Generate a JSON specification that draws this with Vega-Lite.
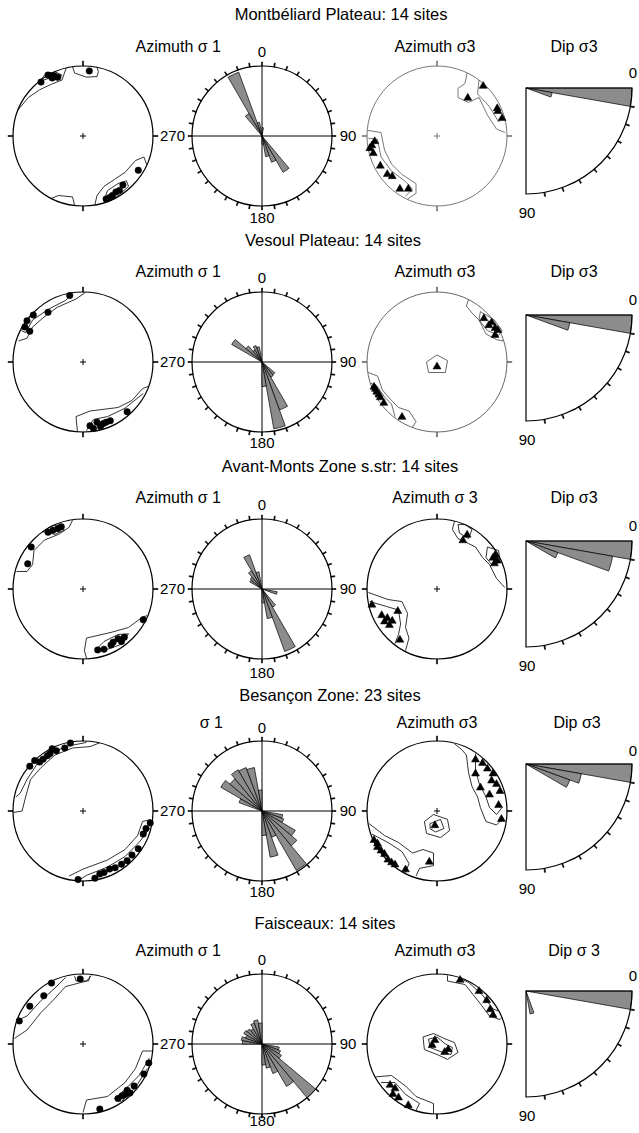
{
"$schema":"https://vega.github.io/schema/vega-lite/v6.json",
"padding":0,
"spacing":0,
"config":{"view":{"stroke":null},"axis":{"disable":true},"font":"Liberation Sans","text":{"font":"Liberation Sans","color":"black"}},
"datasets":{
"rosetick":[{"a":0},{"a":10},{"a":20},{"a":30},{"a":40},{"a":50},{"a":60},{"a":70},{"a":80},{"a":90},{"a":100},{"a":110},{"a":120},{"a":130},{"a":140},{"a":150},{"a":160},{"a":170},{"a":180},{"a":190},{"a":200},{"a":210},{"a":220},{"a":230},{"a":240},{"a":250},{"a":260},{"a":270},{"a":280},{"a":290},{"a":300},{"a":310},{"a":320},{"a":330},{"a":340},{"a":350}],
"nettick":[{"a":0},{"a":90},{"a":180},{"a":270}],
"diptick":[{"a":10},{"a":20},{"a":30},{"a":40},{"a":50},{"a":60},{"a":70},{"a":80}],
"rose":[
{"z":"M","a0":330,"a1":340,"r":0.97},{"z":"M","a0":320,"a1":330,"r":0.37},{"z":"M","a0":340,"a1":350,"r":0.2},{"z":"M","a0":0,"a1":10,"r":0.12},{"z":"M","a0":140,"a1":150,"r":0.6},{"z":"M","a0":150,"a1":160,"r":0.4},{"z":"M","a0":160,"a1":170,"r":0.3},{"z":"M","a0":170,"a1":180,"r":0.12},
{"z":"V","a0":300,"a1":310,"r":0.5},{"z":"V","a0":310,"a1":320,"r":0.3},{"z":"V","a0":320,"a1":330,"r":0.2},{"z":"V","a0":330,"a1":340,"r":0.25},{"z":"V","a0":340,"a1":350,"r":0.22},{"z":"V","a0":130,"a1":140,"r":0.24},{"z":"V","a0":140,"a1":150,"r":0.25},{"z":"V","a0":150,"a1":160,"r":0.73},{"z":"V","a0":160,"a1":170,"r":0.97},{"z":"V","a0":170,"a1":180,"r":0.35},
{"z":"A","a0":330,"a1":340,"r":0.52},{"z":"A","a0":300,"a1":310,"r":0.2},{"z":"A","a0":310,"a1":320,"r":0.22},{"z":"A","a0":320,"a1":330,"r":0.3},{"z":"A","a0":340,"a1":350,"r":0.25},{"z":"A","a0":100,"a1":110,"r":0.22},{"z":"A","a0":140,"a1":150,"r":0.3},{"z":"A","a0":150,"a1":160,"r":0.95},{"z":"A","a0":160,"a1":170,"r":0.43},{"z":"A","a0":170,"a1":180,"r":0.2},
{"z":"B","a0":290,"a1":300,"r":0.35},{"z":"B","a0":300,"a1":310,"r":0.68},{"z":"B","a0":310,"a1":320,"r":0.6},{"z":"B","a0":320,"a1":330,"r":0.68},{"z":"B","a0":330,"a1":340,"r":0.66},{"z":"B","a0":340,"a1":350,"r":0.63},{"z":"B","a0":350,"a1":360,"r":0.3},{"z":"B","a0":100,"a1":110,"r":0.3},{"z":"B","a0":110,"a1":120,"r":0.33},{"z":"B","a0":120,"a1":130,"r":0.55},{"z":"B","a0":130,"a1":140,"r":0.65},{"z":"B","a0":140,"a1":150,"r":0.98},{"z":"B","a0":150,"a1":160,"r":0.4},{"z":"B","a0":160,"a1":170,"r":0.67},{"z":"B","a0":170,"a1":180,"r":0.35},
{"z":"F","a0":270,"a1":280,"r":0.28},{"z":"F","a0":280,"a1":290,"r":0.3},{"z":"F","a0":290,"a1":300,"r":0.25},{"z":"F","a0":300,"a1":310,"r":0.3},{"z":"F","a0":310,"a1":320,"r":0.28},{"z":"F","a0":320,"a1":330,"r":0.25},{"z":"F","a0":330,"a1":340,"r":0.32},{"z":"F","a0":340,"a1":350,"r":0.35},{"z":"F","a0":350,"a1":360,"r":0.3},{"z":"F","a0":100,"a1":110,"r":0.25},{"z":"F","a0":110,"a1":120,"r":0.28},{"z":"F","a0":120,"a1":130,"r":0.32},{"z":"F","a0":130,"a1":140,"r":1.0},{"z":"F","a0":140,"a1":150,"r":0.7},{"z":"F","a0":150,"a1":160,"r":0.45},{"z":"F","a0":160,"a1":170,"r":0.35},{"z":"F","a0":170,"a1":180,"r":0.3}
],
"dip":[
{"z":"M","d0":0,"d1":10,"r":1.0},{"z":"M","d0":10,"d1":20,"r":0.25},
{"z":"V","d0":0,"d1":10,"r":1.0},{"z":"V","d0":10,"d1":20,"r":0.42},
{"z":"A","d0":0,"d1":10,"r":1.0},{"z":"A","d0":10,"d1":20,"r":0.83},{"z":"A","d0":20,"d1":30,"r":0.32},
{"z":"B","d0":0,"d1":10,"r":1.0},{"z":"B","d0":10,"d1":20,"r":0.53},{"z":"B","d0":20,"d1":30,"r":0.44},
{"z":"F","d0":0,"d1":10,"r":1.0},{"z":"F","d0":70,"d1":80,"r":0.22}
],
"poles":[
{"z":"M","p":1,"x":-0.6,"y":0.77},{"z":"M","p":1,"x":-0.5,"y":0.87},{"z":"M","p":1,"x":-0.46,"y":0.86},{"z":"M","p":1,"x":-0.41,"y":0.86},{"z":"M","p":1,"x":-0.36,"y":0.84},{"z":"M","p":1,"x":-0.44,"y":0.83},{"z":"M","p":1,"x":0.09,"y":0.93},{"z":"M","p":1,"x":0.79,"y":-0.49},{"z":"M","p":1,"x":0.57,"y":-0.7},{"z":"M","p":1,"x":0.52,"y":-0.78},{"z":"M","p":1,"x":0.47,"y":-0.8},{"z":"M","p":1,"x":0.42,"y":-0.85},{"z":"M","p":1,"x":0.38,"y":-0.88},{"z":"M","p":1,"x":0.33,"y":-0.9},
{"z":"V","p":1,"x":-0.19,"y":0.95},{"z":"V","p":1,"x":-0.5,"y":0.71},{"z":"V","p":1,"x":-0.71,"y":0.67},{"z":"V","p":1,"x":-0.8,"y":0.59},{"z":"V","p":1,"x":-0.83,"y":0.5},{"z":"V","p":1,"x":-0.76,"y":0.44},{"z":"V","p":1,"x":0.63,"y":-0.71},{"z":"V","p":1,"x":0.39,"y":-0.84},{"z":"V","p":1,"x":0.29,"y":-0.88},{"z":"V","p":1,"x":0.2,"y":-0.86},{"z":"V","p":1,"x":0.15,"y":-0.95},{"z":"V","p":1,"x":0.1,"y":-0.91},{"z":"V","p":1,"x":0.25,"y":-0.92},{"z":"V","p":1,"x":0.33,"y":-0.86},
{"z":"A","p":1,"x":-0.5,"y":0.81},{"z":"A","p":1,"x":-0.43,"y":0.84},{"z":"A","p":1,"x":-0.36,"y":0.86},{"z":"A","p":1,"x":-0.31,"y":0.89},{"z":"A","p":1,"x":-0.74,"y":0.6},{"z":"A","p":1,"x":-0.79,"y":0.36},{"z":"A","p":1,"x":0.86,"y":-0.44},{"z":"A","p":1,"x":0.59,"y":-0.69},{"z":"A","p":1,"x":0.5,"y":-0.71},{"z":"A","p":1,"x":0.43,"y":-0.76},{"z":"A","p":1,"x":0.3,"y":-0.86},{"z":"A","p":1,"x":0.21,"y":-0.87},{"z":"A","p":1,"x":0.4,"y":-0.8},{"z":"A","p":1,"x":0.55,"y":-0.75},
{"z":"B","p":1,"x":-0.18,"y":0.97},{"z":"B","p":1,"x":-0.26,"y":0.9},{"z":"B","p":1,"x":-0.44,"y":0.89},{"z":"B","p":1,"x":-0.51,"y":0.79},{"z":"B","p":1,"x":-0.57,"y":0.74},{"z":"B","p":1,"x":-0.69,"y":0.72},{"z":"B","p":1,"x":-0.76,"y":0.64},{"z":"B","p":1,"x":-0.62,"y":0.7},{"z":"B","p":1,"x":-0.47,"y":0.82},{"z":"B","p":1,"x":-0.38,"y":0.86},{"z":"B","p":1,"x":0.96,"y":-0.17},{"z":"B","p":1,"x":0.86,"y":-0.33},{"z":"B","p":1,"x":0.79,"y":-0.54},{"z":"B","p":1,"x":0.63,"y":-0.71},{"z":"B","p":1,"x":0.46,"y":-0.81},{"z":"B","p":1,"x":0.24,"y":-0.9},{"z":"B","p":1,"x":0.17,"y":-0.96},{"z":"B","p":1,"x":-0.07,"y":-0.98},{"z":"B","p":1,"x":0.55,"y":-0.76},{"z":"B","p":1,"x":0.38,"y":-0.83},{"z":"B","p":1,"x":0.9,"y":-0.25},{"z":"B","p":1,"x":0.7,"y":-0.63},{"z":"B","p":1,"x":0.3,"y":-0.88},
{"z":"F","p":1,"x":-0.45,"y":0.87},{"z":"F","p":1,"x":-0.56,"y":0.69},{"z":"F","p":1,"x":-0.76,"y":0.54},{"z":"F","p":1,"x":-0.91,"y":0.33},{"z":"F","p":1,"x":-0.04,"y":0.93},{"z":"F","p":1,"x":0.94,"y":-0.27},{"z":"F","p":1,"x":0.87,"y":-0.43},{"z":"F","p":1,"x":0.73,"y":-0.6},{"z":"F","p":1,"x":0.67,"y":-0.7},{"z":"F","p":1,"x":0.56,"y":-0.74},{"z":"F","p":1,"x":0.6,"y":-0.72},{"z":"F","p":1,"x":0.24,"y":-0.93},{"z":"F","p":1,"x":0.5,"y":-0.78},{"z":"F","p":1,"x":0.63,"y":-0.66},
{"z":"M","p":3,"x":0.66,"y":0.73},{"z":"M","p":3,"x":0.44,"y":0.56},{"z":"M","p":3,"x":0.86,"y":0.41},{"z":"M","p":3,"x":0.87,"y":0.37},{"z":"M","p":3,"x":0.93,"y":0.27},{"z":"M","p":3,"x":-0.89,"y":-0.06},{"z":"M","p":3,"x":-0.96,"y":-0.16},{"z":"M","p":3,"x":-0.91,"y":-0.23},{"z":"M","p":3,"x":-0.93,"y":-0.12},{"z":"M","p":3,"x":-0.81,"y":-0.41},{"z":"M","p":3,"x":-0.71,"y":-0.53},{"z":"M","p":3,"x":-0.64,"y":-0.56},{"z":"M","p":3,"x":-0.53,"y":-0.74},{"z":"M","p":3,"x":-0.41,"y":-0.74},
{"z":"V","p":3,"x":0.67,"y":0.64},{"z":"V","p":3,"x":0.74,"y":0.54},{"z":"V","p":3,"x":0.83,"y":0.5},{"z":"V","p":3,"x":0.87,"y":0.47},{"z":"V","p":3,"x":0.83,"y":0.4},{"z":"V","p":3,"x":0.78,"y":0.58},{"z":"V","p":3,"x":0.0,"y":-0.05},{"z":"V","p":3,"x":-0.9,"y":-0.34},{"z":"V","p":3,"x":-0.86,"y":-0.41},{"z":"V","p":3,"x":-0.81,"y":-0.49},{"z":"V","p":3,"x":-0.76,"y":-0.57},{"z":"V","p":3,"x":-0.5,"y":-0.77},{"z":"V","p":3,"x":-0.88,"y":-0.37},{"z":"V","p":3,"x":-0.83,"y":-0.45},
{"z":"A","p":3,"x":0.43,"y":0.79},{"z":"A","p":3,"x":0.37,"y":0.71},{"z":"A","p":3,"x":0.83,"y":0.5},{"z":"A","p":3,"x":0.8,"y":0.46},{"z":"A","p":3,"x":0.86,"y":0.42},{"z":"A","p":3,"x":0.82,"y":0.38},{"z":"A","p":3,"x":-0.93,"y":-0.21},{"z":"A","p":3,"x":-0.79,"y":-0.36},{"z":"A","p":3,"x":-0.71,"y":-0.4},{"z":"A","p":3,"x":-0.64,"y":-0.44},{"z":"A","p":3,"x":-0.56,"y":-0.3},{"z":"A","p":3,"x":-0.53,"y":-0.71},{"z":"A","p":3,"x":-0.75,"y":-0.45},{"z":"A","p":3,"x":-0.68,"y":-0.5},
{"z":"B","p":3,"x":0.55,"y":0.75},{"z":"B","p":3,"x":0.65,"y":0.7},{"z":"B","p":3,"x":0.72,"y":0.62},{"z":"B","p":3,"x":0.8,"y":0.55},{"z":"B","p":3,"x":0.78,"y":0.45},{"z":"B","p":3,"x":0.85,"y":0.4},{"z":"B","p":3,"x":0.9,"y":0.3},{"z":"B","p":3,"x":0.75,"y":0.25},{"z":"B","p":3,"x":0.88,"y":0.1},{"z":"B","p":3,"x":0.92,"y":-0.1},{"z":"B","p":3,"x":0.55,"y":0.55},{"z":"B","p":3,"x":0.62,"y":0.35},{"z":"B","p":3,"x":-0.03,"y":-0.19},{"z":"B","p":3,"x":-0.9,"y":-0.4},{"z":"B","p":3,"x":-0.85,"y":-0.5},{"z":"B","p":3,"x":-0.8,"y":-0.55},{"z":"B","p":3,"x":-0.7,"y":-0.68},{"z":"B","p":3,"x":-0.6,"y":-0.75},{"z":"B","p":3,"x":-0.45,"y":-0.82},{"z":"B","p":3,"x":-0.11,"y":-0.71},{"z":"B","p":3,"x":-0.85,"y":-0.45},{"z":"B","p":3,"x":-0.65,"y":-0.72},{"z":"B","p":3,"x":-0.75,"y":-0.6},
{"z":"F","p":3,"x":0.33,"y":0.93},{"z":"F","p":3,"x":0.6,"y":0.77},{"z":"F","p":3,"x":0.71,"y":0.64},{"z":"F","p":3,"x":0.76,"y":0.51},{"z":"F","p":3,"x":0.8,"y":0.43},{"z":"F","p":3,"x":-0.03,"y":0.07},{"z":"F","p":3,"x":-0.07,"y":0.0},{"z":"F","p":3,"x":0.16,"y":-0.06},{"z":"F","p":3,"x":0.11,"y":-0.1},{"z":"F","p":3,"x":-0.67,"y":-0.57},{"z":"F","p":3,"x":-0.63,"y":-0.7},{"z":"F","p":3,"x":-0.41,"y":-0.86},{"z":"F","p":3,"x":-0.6,"y":-0.62},{"z":"F","p":3,"x":-0.55,"y":-0.75}
],
"contours":[
{"z":"M","p":1,"g":"a","x":-0.93,"y":0.37},{"z":"M","p":1,"g":"a","x":-0.78,"y":0.55},{"z":"M","p":1,"g":"a","x":-0.62,"y":0.66},{"z":"M","p":1,"g":"a","x":-0.45,"y":0.74},{"z":"M","p":1,"g":"a","x":-0.3,"y":0.8},{"z":"M","p":1,"g":"a","x":-0.24,"y":0.97},
{"z":"M","p":1,"g":"b","x":-0.62,"y":0.78},{"z":"M","p":1,"g":"b","x":-0.5,"y":0.82},{"z":"M","p":1,"g":"b","x":-0.36,"y":0.8},{"z":"M","p":1,"g":"b","x":-0.3,"y":0.87},{"z":"M","p":1,"g":"b","x":-0.4,"y":0.92},{"z":"M","p":1,"g":"b","x":-0.55,"y":0.87},{"z":"M","p":1,"g":"b","x":-0.62,"y":0.78},
{"z":"M","p":1,"g":"c","x":-0.15,"y":0.99},{"z":"M","p":1,"g":"c","x":-0.12,"y":0.9},{"z":"M","p":1,"g":"c","x":0.05,"y":0.84},{"z":"M","p":1,"g":"c","x":0.2,"y":0.85},{"z":"M","p":1,"g":"c","x":0.22,"y":0.92},{"z":"M","p":1,"g":"c","x":0.2,"y":0.98},
{"z":"M","p":1,"g":"d","x":0.17,"y":-0.98},{"z":"M","p":1,"g":"d","x":0.2,"y":-0.85},{"z":"M","p":1,"g":"d","x":0.3,"y":-0.72},{"z":"M","p":1,"g":"d","x":0.45,"y":-0.62},{"z":"M","p":1,"g":"d","x":0.6,"y":-0.52},{"z":"M","p":1,"g":"d","x":0.75,"y":-0.35},{"z":"M","p":1,"g":"d","x":0.87,"y":-0.3},{"z":"M","p":1,"g":"d","x":0.91,"y":-0.41},
{"z":"M","p":1,"g":"e","x":0.3,"y":-0.92},{"z":"M","p":1,"g":"e","x":0.35,"y":-0.78},{"z":"M","p":1,"g":"e","x":0.5,"y":-0.68},{"z":"M","p":1,"g":"e","x":0.62,"y":-0.64},{"z":"M","p":1,"g":"e","x":0.65,"y":-0.72},{"z":"M","p":1,"g":"e","x":0.52,"y":-0.84},{"z":"M","p":1,"g":"e","x":0.4,"y":-0.92},
{"z":"M","p":1,"g":"f","x":-0.45,"y":-0.89},{"z":"M","p":1,"g":"f","x":-0.35,"y":-0.85},{"z":"M","p":1,"g":"f","x":-0.15,"y":-0.87},{"z":"M","p":1,"g":"f","x":-0.12,"y":-0.99},
{"z":"V","p":1,"g":"a","x":0.03,"y":0.99},{"z":"V","p":1,"g":"a","x":-0.1,"y":0.9},{"z":"V","p":1,"g":"a","x":-0.37,"y":0.78},{"z":"V","p":1,"g":"a","x":-0.56,"y":0.64},{"z":"V","p":1,"g":"a","x":-0.72,"y":0.5},{"z":"V","p":1,"g":"a","x":-0.8,"y":0.34},{"z":"V","p":1,"g":"a","x":-0.92,"y":0.3},
{"z":"V","p":1,"g":"b","x":-0.15,"y":0.97},{"z":"V","p":1,"g":"b","x":-0.25,"y":0.88},{"z":"V","p":1,"g":"b","x":-0.5,"y":0.75},{"z":"V","p":1,"g":"b","x":-0.72,"y":0.6},{"z":"V","p":1,"g":"b","x":-0.82,"y":0.42},{"z":"V","p":1,"g":"b","x":-0.88,"y":0.45},
{"z":"V","p":1,"g":"c","x":0.93,"y":-0.35},{"z":"V","p":1,"g":"c","x":0.85,"y":-0.38},{"z":"V","p":1,"g":"c","x":0.7,"y":-0.55},{"z":"V","p":1,"g":"c","x":0.5,"y":-0.65},{"z":"V","p":1,"g":"c","x":0.1,"y":-0.7},{"z":"V","p":1,"g":"c","x":-0.1,"y":-0.78},{"z":"V","p":1,"g":"c","x":-0.08,"y":-0.99},
{"z":"V","p":1,"g":"d","x":0.86,"y":-0.45},{"z":"V","p":1,"g":"d","x":0.6,"y":-0.66},{"z":"V","p":1,"g":"d","x":0.35,"y":-0.78},{"z":"V","p":1,"g":"d","x":0.15,"y":-0.82},{"z":"V","p":1,"g":"d","x":0.05,"y":-0.98},
{"z":"A","p":1,"g":"a","x":-0.15,"y":0.98},{"z":"A","p":1,"g":"a","x":-0.2,"y":0.88},{"z":"A","p":1,"g":"a","x":-0.35,"y":0.78},{"z":"A","p":1,"g":"a","x":-0.55,"y":0.7},{"z":"A","p":1,"g":"a","x":-0.7,"y":0.55},{"z":"A","p":1,"g":"a","x":-0.72,"y":0.35},{"z":"A","p":1,"g":"a","x":-0.8,"y":0.25},{"z":"A","p":1,"g":"a","x":-0.95,"y":0.25},
{"z":"A","p":1,"g":"b","x":-0.58,"y":0.82},{"z":"A","p":1,"g":"b","x":-0.4,"y":0.78},{"z":"A","p":1,"g":"b","x":-0.27,"y":0.84},{"z":"A","p":1,"g":"b","x":-0.3,"y":0.92},{"z":"A","p":1,"g":"b","x":-0.45,"y":0.9},{"z":"A","p":1,"g":"b","x":-0.58,"y":0.82},
{"z":"A","p":1,"g":"c","x":0.92,"y":-0.38},{"z":"A","p":1,"g":"c","x":0.85,"y":-0.4},{"z":"A","p":1,"g":"c","x":0.65,"y":-0.55},{"z":"A","p":1,"g":"c","x":0.4,"y":-0.62},{"z":"A","p":1,"g":"c","x":0.05,"y":-0.7},{"z":"A","p":1,"g":"c","x":0.02,"y":-0.88},{"z":"A","p":1,"g":"c","x":0.05,"y":-0.99},
{"z":"A","p":1,"g":"d","x":0.65,"y":-0.64},{"z":"A","p":1,"g":"d","x":0.5,"y":-0.65},{"z":"A","p":1,"g":"d","x":0.3,"y":-0.75},{"z":"A","p":1,"g":"d","x":0.2,"y":-0.85},{"z":"A","p":1,"g":"d","x":0.35,"y":-0.86},{"z":"A","p":1,"g":"d","x":0.55,"y":-0.79},{"z":"A","p":1,"g":"d","x":0.65,"y":-0.64},
{"z":"B","p":1,"g":"a","x":0.23,"y":0.97},{"z":"B","p":1,"g":"a","x":0.1,"y":0.92},{"z":"B","p":1,"g":"a","x":-0.15,"y":0.9},{"z":"B","p":1,"g":"a","x":-0.4,"y":0.8},{"z":"B","p":1,"g":"a","x":-0.6,"y":0.62},{"z":"B","p":1,"g":"a","x":-0.75,"y":0.45},{"z":"B","p":1,"g":"a","x":-0.82,"y":0.2},{"z":"B","p":1,"g":"a","x":-0.87,"y":0.0},{"z":"B","p":1,"g":"a","x":-0.99,"y":-0.02},
{"z":"B","p":1,"g":"b","x":0.05,"y":0.98},{"z":"B","p":1,"g":"b","x":-0.2,"y":0.93},{"z":"B","p":1,"g":"b","x":-0.45,"y":0.84},{"z":"B","p":1,"g":"b","x":-0.65,"y":0.68},{"z":"B","p":1,"g":"b","x":-0.8,"y":0.45},{"z":"B","p":1,"g":"b","x":-0.9,"y":0.25},{"z":"B","p":1,"g":"b","x":-0.96,"y":0.2},
{"z":"B","p":1,"g":"c","x":0.97,"y":-0.12},{"z":"B","p":1,"g":"c","x":0.85,"y":-0.15},{"z":"B","p":1,"g":"c","x":0.78,"y":-0.35},{"z":"B","p":1,"g":"c","x":0.6,"y":-0.55},{"z":"B","p":1,"g":"c","x":0.35,"y":-0.7},{"z":"B","p":1,"g":"c","x":0.0,"y":-0.83},{"z":"B","p":1,"g":"c","x":-0.2,"y":-0.93},
{"z":"B","p":1,"g":"d","x":0.95,"y":-0.25},{"z":"B","p":1,"g":"d","x":0.8,"y":-0.45},{"z":"B","p":1,"g":"d","x":0.6,"y":-0.65},{"z":"B","p":1,"g":"d","x":0.35,"y":-0.8},{"z":"B","p":1,"g":"d","x":0.05,"y":-0.92},{"z":"B","p":1,"g":"d","x":-0.05,"y":-0.98},
{"z":"F","p":1,"g":"a","x":0.12,"y":0.98},{"z":"F","p":1,"g":"a","x":0.05,"y":0.9},{"z":"F","p":1,"g":"a","x":-0.25,"y":0.82},{"z":"F","p":1,"g":"a","x":-0.45,"y":0.6},{"z":"F","p":1,"g":"a","x":-0.6,"y":0.45},{"z":"F","p":1,"g":"a","x":-0.8,"y":0.2},{"z":"F","p":1,"g":"a","x":-0.98,"y":0.08},
{"z":"F","p":1,"g":"b","x":-0.25,"y":0.95},{"z":"F","p":1,"g":"b","x":-0.4,"y":0.8},{"z":"F","p":1,"g":"b","x":-0.6,"y":0.62},{"z":"F","p":1,"g":"b","x":-0.8,"y":0.4},{"z":"F","p":1,"g":"b","x":-0.91,"y":0.35},
{"z":"F","p":1,"g":"c","x":-0.12,"y":0.97},{"z":"F","p":1,"g":"c","x":-0.1,"y":0.9},{"z":"F","p":1,"g":"c","x":0.08,"y":0.9},{"z":"F","p":1,"g":"c","x":0.1,"y":0.97},
{"z":"F","p":1,"g":"d","x":0.99,"y":-0.1},{"z":"F","p":1,"g":"d","x":0.85,"y":-0.1},{"z":"F","p":1,"g":"d","x":0.75,"y":-0.35},{"z":"F","p":1,"g":"d","x":0.6,"y":-0.55},{"z":"F","p":1,"g":"d","x":0.35,"y":-0.75},{"z":"F","p":1,"g":"d","x":0.05,"y":-0.8},{"z":"F","p":1,"g":"d","x":0.0,"y":-0.98},
{"z":"F","p":1,"g":"e","x":0.95,"y":-0.2},{"z":"F","p":1,"g":"e","x":0.8,"y":-0.45},{"z":"F","p":1,"g":"e","x":0.6,"y":-0.65},{"z":"F","p":1,"g":"e","x":0.45,"y":-0.78},{"z":"F","p":1,"g":"e","x":0.55,"y":-0.82},{"z":"F","p":1,"g":"e","x":0.75,"y":-0.62},{"z":"F","p":1,"g":"e","x":0.92,"y":-0.35},
{"z":"M","p":3,"g":"a","x":0.43,"y":0.9},{"z":"M","p":3,"g":"a","x":0.4,"y":0.75},{"z":"M","p":3,"g":"a","x":0.3,"y":0.68},{"z":"M","p":3,"g":"a","x":0.3,"y":0.55},{"z":"M","p":3,"g":"a","x":0.45,"y":0.48},{"z":"M","p":3,"g":"a","x":0.6,"y":0.55},{"z":"M","p":3,"g":"a","x":0.72,"y":0.3},{"z":"M","p":3,"g":"a","x":0.85,"y":0.1},{"z":"M","p":3,"g":"a","x":0.97,"y":0.05},
{"z":"M","p":3,"g":"b","x":0.6,"y":0.8},{"z":"M","p":3,"g":"b","x":0.58,"y":0.6},{"z":"M","p":3,"g":"b","x":0.75,"y":0.42},{"z":"M","p":3,"g":"b","x":0.88,"y":0.2},{"z":"M","p":3,"g":"b","x":0.94,"y":0.28},
{"z":"M","p":3,"g":"c","x":-0.99,"y":0.08},{"z":"M","p":3,"g":"c","x":-0.8,"y":0.05},{"z":"M","p":3,"g":"c","x":-0.75,"y":-0.2},{"z":"M","p":3,"g":"c","x":-0.65,"y":-0.4},{"z":"M","p":3,"g":"c","x":-0.5,"y":-0.55},{"z":"M","p":3,"g":"c","x":-0.3,"y":-0.68},{"z":"M","p":3,"g":"c","x":-0.3,"y":-0.82},{"z":"M","p":3,"g":"c","x":-0.42,"y":-0.9},
{"z":"M","p":3,"g":"d","x":-0.98,"y":-0.03},{"z":"M","p":3,"g":"d","x":-0.85,"y":-0.05},{"z":"M","p":3,"g":"d","x":-0.8,"y":-0.3},{"z":"M","p":3,"g":"d","x":-0.65,"y":-0.5},{"z":"M","p":3,"g":"d","x":-0.45,"y":-0.65},{"z":"M","p":3,"g":"d","x":-0.35,"y":-0.76},{"z":"M","p":3,"g":"d","x":-0.45,"y":-0.86},
{"z":"V","p":3,"g":"a","x":0.45,"y":0.89},{"z":"V","p":3,"g":"a","x":0.42,"y":0.8},{"z":"V","p":3,"g":"a","x":0.5,"y":0.7},{"z":"V","p":3,"g":"a","x":0.6,"y":0.6},{"z":"V","p":3,"g":"a","x":0.7,"y":0.4},{"z":"V","p":3,"g":"a","x":0.85,"y":0.32},{"z":"V","p":3,"g":"a","x":0.95,"y":0.3},
{"z":"V","p":3,"g":"b","x":0.62,"y":0.72},{"z":"V","p":3,"g":"b","x":0.6,"y":0.6},{"z":"V","p":3,"g":"b","x":0.72,"y":0.45},{"z":"V","p":3,"g":"b","x":0.88,"y":0.38},{"z":"V","p":3,"g":"b","x":0.93,"y":0.45},{"z":"V","p":3,"g":"b","x":0.82,"y":0.6},{"z":"V","p":3,"g":"b","x":0.62,"y":0.72},
{"z":"V","p":3,"g":"c","x":-0.15,"y":0.0},{"z":"V","p":3,"g":"c","x":0.0,"y":0.1},{"z":"V","p":3,"g":"c","x":0.15,"y":0.02},{"z":"V","p":3,"g":"c","x":0.12,"y":-0.15},{"z":"V","p":3,"g":"c","x":-0.12,"y":-0.15},{"z":"V","p":3,"g":"c","x":-0.15,"y":0.0},
{"z":"V","p":3,"g":"d","x":-0.98,"y":-0.15},{"z":"V","p":3,"g":"d","x":-0.85,"y":-0.2},{"z":"V","p":3,"g":"d","x":-0.78,"y":-0.4},{"z":"V","p":3,"g":"d","x":-0.65,"y":-0.55},{"z":"V","p":3,"g":"d","x":-0.55,"y":-0.65},{"z":"V","p":3,"g":"d","x":-0.4,"y":-0.7},{"z":"V","p":3,"g":"d","x":-0.3,"y":-0.85},{"z":"V","p":3,"g":"d","x":-0.35,"y":-0.93},
{"z":"V","p":3,"g":"e","x":-0.95,"y":-0.3},{"z":"V","p":3,"g":"e","x":-0.85,"y":-0.35},{"z":"V","p":3,"g":"e","x":-0.75,"y":-0.5},{"z":"V","p":3,"g":"e","x":-0.65,"y":-0.6},{"z":"V","p":3,"g":"e","x":-0.6,"y":-0.78},
{"z":"A","p":3,"g":"a","x":0.25,"y":0.97},{"z":"A","p":3,"g":"a","x":0.22,"y":0.85},{"z":"A","p":3,"g":"a","x":0.3,"y":0.72},{"z":"A","p":3,"g":"a","x":0.45,"y":0.65},{"z":"A","p":3,"g":"a","x":0.55,"y":0.6},{"z":"A","p":3,"g":"a","x":0.65,"y":0.45},{"z":"A","p":3,"g":"a","x":0.75,"y":0.35},{"z":"A","p":3,"g":"a","x":0.85,"y":0.15},{"z":"A","p":3,"g":"a","x":0.97,"y":0.02},
{"z":"A","p":3,"g":"b","x":0.3,"y":0.92},{"z":"A","p":3,"g":"b","x":0.32,"y":0.8},{"z":"A","p":3,"g":"b","x":0.45,"y":0.72},{"z":"A","p":3,"g":"b","x":0.5,"y":0.85},{"z":"A","p":3,"g":"b","x":0.4,"y":0.92},{"z":"A","p":3,"g":"b","x":0.3,"y":0.92},
{"z":"A","p":3,"g":"c","x":0.72,"y":0.6},{"z":"A","p":3,"g":"c","x":0.7,"y":0.45},{"z":"A","p":3,"g":"c","x":0.78,"y":0.35},{"z":"A","p":3,"g":"c","x":0.9,"y":0.38},{"z":"A","p":3,"g":"c","x":0.88,"y":0.55},{"z":"A","p":3,"g":"c","x":0.72,"y":0.6},
{"z":"A","p":3,"g":"d","x":-0.98,"y":-0.05},{"z":"A","p":3,"g":"d","x":-0.7,"y":-0.15},{"z":"A","p":3,"g":"d","x":-0.5,"y":-0.18},{"z":"A","p":3,"g":"d","x":-0.42,"y":-0.35},{"z":"A","p":3,"g":"d","x":-0.45,"y":-0.55},{"z":"A","p":3,"g":"d","x":-0.4,"y":-0.7},{"z":"A","p":3,"g":"d","x":-0.45,"y":-0.88},
{"z":"A","p":3,"g":"e","x":-0.96,"y":-0.18},{"z":"A","p":3,"g":"e","x":-0.72,"y":-0.25},{"z":"A","p":3,"g":"e","x":-0.55,"y":-0.3},{"z":"A","p":3,"g":"e","x":-0.52,"y":-0.5},{"z":"A","p":3,"g":"e","x":-0.55,"y":-0.65},{"z":"A","p":3,"g":"e","x":-0.6,"y":-0.78},
{"z":"B","p":3,"g":"a","x":0.25,"y":0.96},{"z":"B","p":3,"g":"a","x":0.35,"y":0.88},{"z":"B","p":3,"g":"a","x":0.42,"y":0.8},{"z":"B","p":3,"g":"a","x":0.45,"y":0.55},{"z":"B","p":3,"g":"a","x":0.5,"y":0.35},{"z":"B","p":3,"g":"a","x":0.58,"y":0.2},{"z":"B","p":3,"g":"a","x":0.62,"y":0.05},{"z":"B","p":3,"g":"a","x":0.7,"y":-0.15},{"z":"B","p":3,"g":"a","x":0.85,"y":-0.2},{"z":"B","p":3,"g":"a","x":0.95,"y":-0.1},
{"z":"B","p":3,"g":"b","x":0.55,"y":0.82},{"z":"B","p":3,"g":"b","x":0.55,"y":0.6},{"z":"B","p":3,"g":"b","x":0.6,"y":0.4},{"z":"B","p":3,"g":"b","x":0.7,"y":0.2},{"z":"B","p":3,"g":"b","x":0.75,"y":0.05},{"z":"B","p":3,"g":"b","x":0.85,"y":-0.05},{"z":"B","p":3,"g":"b","x":0.93,"y":0.05},
{"z":"B","p":3,"g":"c","x":-0.18,"y":-0.15},{"z":"B","p":3,"g":"c","x":-0.05,"y":-0.05},{"z":"B","p":3,"g":"c","x":0.15,"y":-0.12},{"z":"B","p":3,"g":"c","x":0.18,"y":-0.28},{"z":"B","p":3,"g":"c","x":0.05,"y":-0.38},{"z":"B","p":3,"g":"c","x":-0.15,"y":-0.32},{"z":"B","p":3,"g":"c","x":-0.18,"y":-0.15},
{"z":"B","p":3,"g":"d","x":-0.1,"y":-0.18},{"z":"B","p":3,"g":"d","x":0.05,"y":-0.12},{"z":"B","p":3,"g":"d","x":0.1,"y":-0.25},{"z":"B","p":3,"g":"d","x":-0.02,"y":-0.3},{"z":"B","p":3,"g":"d","x":-0.1,"y":-0.25},{"z":"B","p":3,"g":"d","x":-0.1,"y":-0.18},
{"z":"B","p":3,"g":"e","x":-0.97,"y":-0.18},{"z":"B","p":3,"g":"e","x":-0.75,"y":-0.35},{"z":"B","p":3,"g":"e","x":-0.55,"y":-0.45},{"z":"B","p":3,"g":"e","x":-0.35,"y":-0.6},{"z":"B","p":3,"g":"e","x":-0.2,"y":-0.55},{"z":"B","p":3,"g":"e","x":-0.05,"y":-0.6},{"z":"B","p":3,"g":"e","x":-0.05,"y":-0.78},{"z":"B","p":3,"g":"e","x":-0.25,"y":-0.82},{"z":"B","p":3,"g":"e","x":-0.3,"y":-0.93},
{"z":"B","p":3,"g":"f","x":-0.93,"y":-0.33},{"z":"B","p":3,"g":"f","x":-0.7,"y":-0.45},{"z":"B","p":3,"g":"f","x":-0.5,"y":-0.58},{"z":"B","p":3,"g":"f","x":-0.4,"y":-0.75},{"z":"B","p":3,"g":"f","x":-0.45,"y":-0.88},
{"z":"F","p":3,"g":"a","x":0.15,"y":0.98},{"z":"F","p":3,"g":"a","x":0.15,"y":0.9},{"z":"F","p":3,"g":"a","x":0.4,"y":0.85},{"z":"F","p":3,"g":"a","x":0.6,"y":0.6},{"z":"F","p":3,"g":"a","x":0.75,"y":0.4},{"z":"F","p":3,"g":"a","x":0.9,"y":0.35},{"z":"F","p":3,"g":"a","x":0.93,"y":0.38},
{"z":"F","p":3,"g":"b","x":0.3,"y":0.95},{"z":"F","p":3,"g":"b","x":0.45,"y":0.88},{"z":"F","p":3,"g":"b","x":0.65,"y":0.7},{"z":"F","p":3,"g":"b","x":0.8,"y":0.5},{"z":"F","p":3,"g":"b","x":0.88,"y":0.47},
{"z":"F","p":3,"g":"c","x":-0.2,"y":0.1},{"z":"F","p":3,"g":"c","x":-0.05,"y":0.15},{"z":"F","p":3,"g":"c","x":0.1,"y":0.08},{"z":"F","p":3,"g":"c","x":0.25,"y":0.02},{"z":"F","p":3,"g":"c","x":0.3,"y":-0.12},{"z":"F","p":3,"g":"c","x":0.15,"y":-0.22},{"z":"F","p":3,"g":"c","x":0.0,"y":-0.15},{"z":"F","p":3,"g":"c","x":-0.18,"y":-0.08},{"z":"F","p":3,"g":"c","x":-0.2,"y":0.1},
{"z":"F","p":3,"g":"d","x":-0.12,"y":0.07},{"z":"F","p":3,"g":"d","x":0.0,"y":0.1},{"z":"F","p":3,"g":"d","x":0.12,"y":0.0},{"z":"F","p":3,"g":"d","x":0.22,"y":-0.05},{"z":"F","p":3,"g":"d","x":0.2,"y":-0.15},{"z":"F","p":3,"g":"d","x":0.08,"y":-0.12},{"z":"F","p":3,"g":"d","x":-0.1,"y":-0.05},{"z":"F","p":3,"g":"d","x":-0.12,"y":0.07},
{"z":"F","p":3,"g":"e","x":-0.88,"y":-0.47},{"z":"F","p":3,"g":"e","x":-0.65,"y":-0.45},{"z":"F","p":3,"g":"e","x":-0.45,"y":-0.6},{"z":"F","p":3,"g":"e","x":-0.3,"y":-0.75},{"z":"F","p":3,"g":"e","x":-0.05,"y":-0.85},{"z":"F","p":3,"g":"e","x":-0.05,"y":-0.99},
{"z":"F","p":3,"g":"f","x":-0.8,"y":-0.55},{"z":"F","p":3,"g":"f","x":-0.6,"y":-0.55},{"z":"F","p":3,"g":"f","x":-0.45,"y":-0.72},{"z":"F","p":3,"g":"f","x":-0.25,"y":-0.85},{"z":"F","p":3,"g":"f","x":-0.3,"y":-0.95}
]
},
"vconcat":[
{"spacing":0,"bounds":"flush","hconcat":[
{"width":166,"height":226,"layer":[
{"data":{"values":[{}]},"mark":{"type":"arc","theta":0,"theta2":6.2832,"radius":70,"filled":false,"stroke":"black","strokeWidth":1.2},"encoding":{"x":{"datum":0,"type":"quantitative","scale":{"domain":[-1.185714,1.185714],"nice":false,"zero":false}},"y":{"datum":0,"type":"quantitative","scale":{"domain":[-1.285714,1.942857],"nice":false,"zero":false}}}},
{"data":{"name":"nettick"},"mark":{"type":"arc","radius":70,"radius2":75,"thetaOffset":-0.007,"theta2Offset":0.007,"fill":"black","stroke":"black","strokeWidth":0.6},"encoding":{"x":{"datum":0,"type":"quantitative"},"y":{"datum":0,"type":"quantitative"},"theta":{"field":"a","type":"quantitative","stack":null,"scale":{"domain":[0,360],"range":[0,6.283185]}},"theta2":{"field":"a"}}},
{"data":{"name":"contours"},"transform":[{"filter":"datum.z=='M'&&datum.p==1"},{"window":[{"op":"row_number","as":"o"}],"groupby":["g"]}],"mark":{"type":"line","stroke":"black","strokeWidth":0.8},"encoding":{"x":{"field":"x","type":"quantitative"},"y":{"field":"y","type":"quantitative"},"detail":{"field":"g"},"order":{"field":"o","type":"quantitative"}}},
{"data":{"name":"poles"},"transform":[{"filter":"datum.z=='M'&&datum.p==1"}],"mark":{"type":"point","shape":"circle","filled":true,"fill":"black","stroke":"black","strokeWidth":0.5,"size":42,"opacity":1},"encoding":{"x":{"field":"x","type":"quantitative"},"y":{"field":"y","type":"quantitative"}}},
{"data":{"values":[{}]},"mark":{"type":"point","shape":"M-1,0L1,0M0,-1L0,1","filled":false,"stroke":"black","strokeWidth":1,"size":36,"opacity":1},"encoding":{"x":{"datum":0,"type":"quantitative"},"y":{"datum":0,"type":"quantitative"}}},
{"data":{"values":[{}]},"mark":{"type":"text","align":"right","baseline":"middle","fontSize":16},"encoding":{"x":{"datum":1.971,"type":"quantitative"},"y":{"datum":1.271429,"type":"quantitative"},"text":{"value":"Azimuth σ 1"}}}
]},
{"width":192,"height":226,"layer":[
{"data":{"values":[{}]},"mark":{"type":"arc","theta":0,"theta2":6.2832,"radius":70,"filled":false,"stroke":"black","strokeWidth":1.2},"encoding":{"x":{"datum":0,"type":"quantitative","scale":{"domain":[-1.371429,1.371429],"nice":false,"zero":false}},"y":{"datum":0,"type":"quantitative","scale":{"domain":[-1.285714,1.942857],"nice":false,"zero":false}}}},
{"data":{"values":[{}]},"mark":{"type":"rule","stroke":"black","strokeWidth":1},"encoding":{"x":{"datum":-1,"type":"quantitative"},"x2":{"datum":1},"y":{"datum":0,"type":"quantitative"}}},
{"data":{"values":[{}]},"mark":{"type":"rule","stroke":"black","strokeWidth":1},"encoding":{"x":{"datum":0,"type":"quantitative"},"y":{"datum":-1,"type":"quantitative"},"y2":{"datum":1}}},
{"data":{"name":"rosetick"},"mark":{"type":"arc","radius":70,"radius2":74,"thetaOffset":-0.007,"theta2Offset":0.007,"fill":"black","stroke":"black","strokeWidth":0.6},"encoding":{"x":{"datum":0,"type":"quantitative"},"y":{"datum":0,"type":"quantitative"},"theta":{"field":"a","type":"quantitative","stack":null,"scale":{"domain":[0,360],"range":[0,6.283185]}},"theta2":{"field":"a"}}},
{"data":{"name":"rose"},"transform":[{"filter":"datum.z=='M'"}],"mark":{"type":"arc","fill":"#8c8c8c","stroke":"black","strokeWidth":0.7},"encoding":{"x":{"datum":0,"type":"quantitative"},"y":{"datum":0,"type":"quantitative"},"theta":{"field":"a0","type":"quantitative","stack":null,"scale":{"domain":[0,360],"range":[0,6.283185]}},"theta2":{"field":"a1"},"radius":{"field":"r","type":"quantitative","scale":{"type":"linear","domain":[0,1],"range":[0,70],"zero":true}}}},
{"data":{"values":[{}]},"mark":{"type":"text","align":"center","baseline":"middle","fontSize":15},"encoding":{"x":{"datum":0,"type":"quantitative"},"y":{"datum":1.2,"type":"quantitative"},"text":{"value":"0"}}},
{"data":{"values":[{}]},"mark":{"type":"text","align":"center","baseline":"middle","fontSize":15},"encoding":{"x":{"datum":0,"type":"quantitative"},"y":{"datum":-1.17,"type":"quantitative"},"text":{"value":"180"}}},
{"data":{"values":[{}]},"mark":{"type":"text","align":"right","baseline":"middle","fontSize":15},"encoding":{"x":{"datum":-1.1,"type":"quantitative"},"y":{"datum":0,"type":"quantitative"},"text":{"value":"270"}}},
{"data":{"values":[{}]},"mark":{"type":"text","align":"left","baseline":"middle","fontSize":15},"encoding":{"x":{"datum":1.11,"type":"quantitative"},"y":{"datum":0,"type":"quantitative"},"text":{"value":"90"}}},
{"data":{"values":[{}]},"mark":{"type":"text","align":"center","baseline":"middle","fontSize":16.5},"encoding":{"x":{"datum":1.129,"type":"quantitative"},"y":{"datum":1.728571,"type":"quantitative"},"text":{"value":"Montbéliard Plateau: 14 sites"}}}
]},
{"width":158,"height":226,"layer":[
{"data":{"values":[{}]},"mark":{"type":"arc","theta":0,"theta2":6.2832,"radius":70,"filled":false,"stroke":"#777777","strokeWidth":1},"encoding":{"x":{"datum":0,"type":"quantitative","scale":{"domain":[-1.128571,1.128571],"nice":false,"zero":false}},"y":{"datum":0,"type":"quantitative","scale":{"domain":[-1.285714,1.942857],"nice":false,"zero":false}}}},
{"data":{"name":"nettick"},"mark":{"type":"arc","radius":70,"radius2":75,"thetaOffset":-0.007,"theta2Offset":0.007,"fill":"#777777","stroke":"#777777","strokeWidth":0.6},"encoding":{"x":{"datum":0,"type":"quantitative"},"y":{"datum":0,"type":"quantitative"},"theta":{"field":"a","type":"quantitative","stack":null,"scale":{"domain":[0,360],"range":[0,6.283185]}},"theta2":{"field":"a"}}},
{"data":{"name":"contours"},"transform":[{"filter":"datum.z=='M'&&datum.p==3"},{"window":[{"op":"row_number","as":"o"}],"groupby":["g"]}],"mark":{"type":"line","stroke":"#555555","strokeWidth":0.8},"encoding":{"x":{"field":"x","type":"quantitative"},"y":{"field":"y","type":"quantitative"},"detail":{"field":"g"},"order":{"field":"o","type":"quantitative"}}},
{"data":{"name":"poles"},"transform":[{"filter":"datum.z=='M'&&datum.p==3"}],"mark":{"type":"point","shape":"triangle-up","filled":true,"fill":"black","stroke":"black","strokeWidth":0.5,"size":64,"opacity":1},"encoding":{"x":{"field":"x","type":"quantitative"},"y":{"field":"y","type":"quantitative"}}},
{"data":{"values":[{}]},"mark":{"type":"point","shape":"M-1,0L1,0M0,-1L0,1","filled":false,"stroke":"#777777","strokeWidth":1,"size":36,"opacity":1},"encoding":{"x":{"datum":0,"type":"quantitative"},"y":{"datum":0,"type":"quantitative"}}},
{"data":{"values":[{}]},"mark":{"type":"text","align":"center","baseline":"middle","fontSize":16},"encoding":{"x":{"datum":-0.03,"type":"quantitative"},"y":{"datum":1.271429,"type":"quantitative"},"text":{"value":"Azimuth σ3"}}}
]},
{"width":123,"height":226,"layer":[
{"data":{"name":"dip"},"transform":[{"filter":"datum.z=='M'"}],"mark":{"type":"arc","fill":"#8c8c8c","stroke":"black","strokeWidth":0.7},"encoding":{"x":{"datum":0,"type":"quantitative","scale":{"domain":[-0.142857,1.614286],"nice":false,"zero":false}},"y":{"datum":0.685714,"type":"quantitative","scale":{"domain":[-1.285714,1.942857],"nice":false,"zero":false}},"theta":{"field":"d0","type":"quantitative","stack":null,"scale":{"domain":[-90,270],"range":[0,6.283185]}},"theta2":{"field":"d1"},"radius":{"field":"r","type":"quantitative","scale":{"type":"linear","domain":[0,1],"range":[0,106],"zero":true}}}},
{"data":{"values":[{}]},"mark":{"type":"arc","theta":1.570796,"theta2":3.141593,"radius":106,"filled":false,"stroke":"black","strokeWidth":1.2},"encoding":{"x":{"datum":0,"type":"quantitative"},"y":{"datum":0.685714,"type":"quantitative"}}},
{"data":{"name":"diptick"},"mark":{"type":"arc","radius":106,"radius2":110,"thetaOffset":-0.005,"theta2Offset":0.005,"fill":"black","stroke":"black","strokeWidth":0.6},"encoding":{"x":{"datum":0,"type":"quantitative"},"y":{"datum":0.685714,"type":"quantitative"},"theta":{"field":"a","type":"quantitative","stack":null,"scale":{"domain":[-90,270],"range":[0,6.283185]}},"theta2":{"field":"a"}}},
{"data":{"values":[{}]},"mark":{"type":"text","align":"center","baseline":"middle","fontSize":15},"encoding":{"x":{"datum":1.529,"type":"quantitative"},"y":{"datum":0.9,"type":"quantitative"},"text":{"value":"0"}}},
{"data":{"values":[{}]},"mark":{"type":"text","align":"center","baseline":"middle","fontSize":15},"encoding":{"x":{"datum":0.014,"type":"quantitative"},"y":{"datum":-1.1,"type":"quantitative"},"text":{"value":"90"}}},
{"data":{"values":[{}]},"mark":{"type":"text","align":"center","baseline":"middle","fontSize":16},"encoding":{"x":{"datum":0.686,"type":"quantitative"},"y":{"datum":1.271429,"type":"quantitative"},"text":{"value":"Dip σ3"}}}
]}
]},
{"spacing":0,"bounds":"flush","hconcat":[
{"width":166,"height":225,"layer":[
{"data":{"values":[{}]},"mark":{"type":"arc","theta":0,"theta2":6.2832,"radius":70,"filled":false,"stroke":"black","strokeWidth":1.2},"encoding":{"x":{"datum":0,"type":"quantitative","scale":{"domain":[-1.185714,1.185714],"nice":false,"zero":false}},"y":{"datum":0,"type":"quantitative","scale":{"domain":[-1.271429,1.942857],"nice":false,"zero":false}}}},
{"data":{"name":"nettick"},"mark":{"type":"arc","radius":70,"radius2":75,"thetaOffset":-0.007,"theta2Offset":0.007,"fill":"black","stroke":"black","strokeWidth":0.6},"encoding":{"x":{"datum":0,"type":"quantitative"},"y":{"datum":0,"type":"quantitative"},"theta":{"field":"a","type":"quantitative","stack":null,"scale":{"domain":[0,360],"range":[0,6.283185]}},"theta2":{"field":"a"}}},
{"data":{"name":"contours"},"transform":[{"filter":"datum.z=='V'&&datum.p==1"},{"window":[{"op":"row_number","as":"o"}],"groupby":["g"]}],"mark":{"type":"line","stroke":"black","strokeWidth":0.8},"encoding":{"x":{"field":"x","type":"quantitative"},"y":{"field":"y","type":"quantitative"},"detail":{"field":"g"},"order":{"field":"o","type":"quantitative"}}},
{"data":{"name":"poles"},"transform":[{"filter":"datum.z=='V'&&datum.p==1"}],"mark":{"type":"point","shape":"circle","filled":true,"fill":"black","stroke":"black","strokeWidth":0.5,"size":42,"opacity":1},"encoding":{"x":{"field":"x","type":"quantitative"},"y":{"field":"y","type":"quantitative"}}},
{"data":{"values":[{}]},"mark":{"type":"point","shape":"M-1,0L1,0M0,-1L0,1","filled":false,"stroke":"black","strokeWidth":1,"size":36,"opacity":1},"encoding":{"x":{"datum":0,"type":"quantitative"},"y":{"datum":0,"type":"quantitative"}}},
{"data":{"values":[{}]},"mark":{"type":"text","align":"right","baseline":"middle","fontSize":16},"encoding":{"x":{"datum":1.971,"type":"quantitative"},"y":{"datum":1.285714,"type":"quantitative"},"text":{"value":"Azimuth σ 1"}}}
]},
{"width":192,"height":225,"layer":[
{"data":{"values":[{}]},"mark":{"type":"arc","theta":0,"theta2":6.2832,"radius":70,"filled":false,"stroke":"black","strokeWidth":1.2},"encoding":{"x":{"datum":0,"type":"quantitative","scale":{"domain":[-1.371429,1.371429],"nice":false,"zero":false}},"y":{"datum":0,"type":"quantitative","scale":{"domain":[-1.271429,1.942857],"nice":false,"zero":false}}}},
{"data":{"values":[{}]},"mark":{"type":"rule","stroke":"black","strokeWidth":1},"encoding":{"x":{"datum":-1,"type":"quantitative"},"x2":{"datum":1},"y":{"datum":0,"type":"quantitative"}}},
{"data":{"values":[{}]},"mark":{"type":"rule","stroke":"black","strokeWidth":1},"encoding":{"x":{"datum":0,"type":"quantitative"},"y":{"datum":-1,"type":"quantitative"},"y2":{"datum":1}}},
{"data":{"name":"rosetick"},"mark":{"type":"arc","radius":70,"radius2":74,"thetaOffset":-0.007,"theta2Offset":0.007,"fill":"black","stroke":"black","strokeWidth":0.6},"encoding":{"x":{"datum":0,"type":"quantitative"},"y":{"datum":0,"type":"quantitative"},"theta":{"field":"a","type":"quantitative","stack":null,"scale":{"domain":[0,360],"range":[0,6.283185]}},"theta2":{"field":"a"}}},
{"data":{"name":"rose"},"transform":[{"filter":"datum.z=='V'"}],"mark":{"type":"arc","fill":"#8c8c8c","stroke":"black","strokeWidth":0.7},"encoding":{"x":{"datum":0,"type":"quantitative"},"y":{"datum":0,"type":"quantitative"},"theta":{"field":"a0","type":"quantitative","stack":null,"scale":{"domain":[0,360],"range":[0,6.283185]}},"theta2":{"field":"a1"},"radius":{"field":"r","type":"quantitative","scale":{"type":"linear","domain":[0,1],"range":[0,70],"zero":true}}}},
{"data":{"values":[{}]},"mark":{"type":"text","align":"center","baseline":"middle","fontSize":15},"encoding":{"x":{"datum":0,"type":"quantitative"},"y":{"datum":1.2,"type":"quantitative"},"text":{"value":"0"}}},
{"data":{"values":[{}]},"mark":{"type":"text","align":"center","baseline":"middle","fontSize":15},"encoding":{"x":{"datum":0,"type":"quantitative"},"y":{"datum":-1.16,"type":"quantitative"},"text":{"value":"180"}}},
{"data":{"values":[{}]},"mark":{"type":"text","align":"right","baseline":"middle","fontSize":15},"encoding":{"x":{"datum":-1.1,"type":"quantitative"},"y":{"datum":0,"type":"quantitative"},"text":{"value":"270"}}},
{"data":{"values":[{}]},"mark":{"type":"text","align":"left","baseline":"middle","fontSize":15},"encoding":{"x":{"datum":1.11,"type":"quantitative"},"y":{"datum":0,"type":"quantitative"},"text":{"value":"90"}}},
{"data":{"values":[{}]},"mark":{"type":"text","align":"center","baseline":"middle","fontSize":16.5},"encoding":{"x":{"datum":1.014,"type":"quantitative"},"y":{"datum":1.728571,"type":"quantitative"},"text":{"value":"Vesoul Plateau: 14 sites"}}}
]},
{"width":158,"height":225,"layer":[
{"data":{"values":[{}]},"mark":{"type":"arc","theta":0,"theta2":6.2832,"radius":70,"filled":false,"stroke":"#666666","strokeWidth":1},"encoding":{"x":{"datum":0,"type":"quantitative","scale":{"domain":[-1.128571,1.128571],"nice":false,"zero":false}},"y":{"datum":0,"type":"quantitative","scale":{"domain":[-1.271429,1.942857],"nice":false,"zero":false}}}},
{"data":{"name":"nettick"},"mark":{"type":"arc","radius":70,"radius2":75,"thetaOffset":-0.007,"theta2Offset":0.007,"fill":"#666666","stroke":"#666666","strokeWidth":0.6},"encoding":{"x":{"datum":0,"type":"quantitative"},"y":{"datum":0,"type":"quantitative"},"theta":{"field":"a","type":"quantitative","stack":null,"scale":{"domain":[0,360],"range":[0,6.283185]}},"theta2":{"field":"a"}}},
{"data":{"name":"contours"},"transform":[{"filter":"datum.z=='V'&&datum.p==3"},{"window":[{"op":"row_number","as":"o"}],"groupby":["g"]}],"mark":{"type":"line","stroke":"#444444","strokeWidth":0.8},"encoding":{"x":{"field":"x","type":"quantitative"},"y":{"field":"y","type":"quantitative"},"detail":{"field":"g"},"order":{"field":"o","type":"quantitative"}}},
{"data":{"name":"poles"},"transform":[{"filter":"datum.z=='V'&&datum.p==3"}],"mark":{"type":"point","shape":"triangle-up","filled":true,"fill":"black","stroke":"black","strokeWidth":0.5,"size":64,"opacity":1},"encoding":{"x":{"field":"x","type":"quantitative"},"y":{"field":"y","type":"quantitative"}}},
{"data":{"values":[{}]},"mark":{"type":"text","align":"center","baseline":"middle","fontSize":16},"encoding":{"x":{"datum":-0.03,"type":"quantitative"},"y":{"datum":1.285714,"type":"quantitative"},"text":{"value":"Azimuth σ3"}}}
]},
{"width":123,"height":225,"layer":[
{"data":{"name":"dip"},"transform":[{"filter":"datum.z=='V'"}],"mark":{"type":"arc","fill":"#8c8c8c","stroke":"black","strokeWidth":0.7},"encoding":{"x":{"datum":0,"type":"quantitative","scale":{"domain":[-0.142857,1.614286],"nice":false,"zero":false}},"y":{"datum":0.671429,"type":"quantitative","scale":{"domain":[-1.271429,1.942857],"nice":false,"zero":false}},"theta":{"field":"d0","type":"quantitative","stack":null,"scale":{"domain":[-90,270],"range":[0,6.283185]}},"theta2":{"field":"d1"},"radius":{"field":"r","type":"quantitative","scale":{"type":"linear","domain":[0,1],"range":[0,106],"zero":true}}}},
{"data":{"values":[{}]},"mark":{"type":"arc","theta":1.570796,"theta2":3.141593,"radius":106,"filled":false,"stroke":"black","strokeWidth":1.2},"encoding":{"x":{"datum":0,"type":"quantitative"},"y":{"datum":0.671429,"type":"quantitative"}}},
{"data":{"name":"diptick"},"mark":{"type":"arc","radius":106,"radius2":110,"thetaOffset":-0.005,"theta2Offset":0.005,"fill":"black","stroke":"black","strokeWidth":0.6},"encoding":{"x":{"datum":0,"type":"quantitative"},"y":{"datum":0.671429,"type":"quantitative"},"theta":{"field":"a","type":"quantitative","stack":null,"scale":{"domain":[-90,270],"range":[0,6.283185]}},"theta2":{"field":"a"}}},
{"data":{"values":[{}]},"mark":{"type":"text","align":"center","baseline":"middle","fontSize":15},"encoding":{"x":{"datum":1.529,"type":"quantitative"},"y":{"datum":0.886,"type":"quantitative"},"text":{"value":"0"}}},
{"data":{"values":[{}]},"mark":{"type":"text","align":"center","baseline":"middle","fontSize":15},"encoding":{"x":{"datum":0.014,"type":"quantitative"},"y":{"datum":-1.114,"type":"quantitative"},"text":{"value":"90"}}},
{"data":{"values":[{}]},"mark":{"type":"text","align":"center","baseline":"middle","fontSize":16},"encoding":{"x":{"datum":0.686,"type":"quantitative"},"y":{"datum":1.285714,"type":"quantitative"},"text":{"value":"Dip σ3"}}}
]}
]},
{"spacing":0,"bounds":"flush","hconcat":[
{"width":166,"height":229,"layer":[
{"data":{"values":[{}]},"mark":{"type":"arc","theta":0,"theta2":6.2832,"radius":70,"filled":false,"stroke":"black","strokeWidth":1.2},"encoding":{"x":{"datum":0,"type":"quantitative","scale":{"domain":[-1.185714,1.185714],"nice":false,"zero":false}},"y":{"datum":0,"type":"quantitative","scale":{"domain":[-1.314286,1.957143],"nice":false,"zero":false}}}},
{"data":{"name":"nettick"},"mark":{"type":"arc","radius":70,"radius2":75,"thetaOffset":-0.007,"theta2Offset":0.007,"fill":"black","stroke":"black","strokeWidth":0.6},"encoding":{"x":{"datum":0,"type":"quantitative"},"y":{"datum":0,"type":"quantitative"},"theta":{"field":"a","type":"quantitative","stack":null,"scale":{"domain":[0,360],"range":[0,6.283185]}},"theta2":{"field":"a"}}},
{"data":{"name":"contours"},"transform":[{"filter":"datum.z=='A'&&datum.p==1"},{"window":[{"op":"row_number","as":"o"}],"groupby":["g"]}],"mark":{"type":"line","stroke":"black","strokeWidth":0.8},"encoding":{"x":{"field":"x","type":"quantitative"},"y":{"field":"y","type":"quantitative"},"detail":{"field":"g"},"order":{"field":"o","type":"quantitative"}}},
{"data":{"name":"poles"},"transform":[{"filter":"datum.z=='A'&&datum.p==1"}],"mark":{"type":"point","shape":"circle","filled":true,"fill":"black","stroke":"black","strokeWidth":0.5,"size":42,"opacity":1},"encoding":{"x":{"field":"x","type":"quantitative"},"y":{"field":"y","type":"quantitative"}}},
{"data":{"values":[{}]},"mark":{"type":"point","shape":"M-1,0L1,0M0,-1L0,1","filled":false,"stroke":"black","strokeWidth":1,"size":36,"opacity":1},"encoding":{"x":{"datum":0,"type":"quantitative"},"y":{"datum":0,"type":"quantitative"}}},
{"data":{"values":[{}]},"mark":{"type":"text","align":"right","baseline":"middle","fontSize":16},"encoding":{"x":{"datum":1.971,"type":"quantitative"},"y":{"datum":1.3,"type":"quantitative"},"text":{"value":"Azimuth σ 1"}}}
]},
{"width":192,"height":229,"layer":[
{"data":{"values":[{}]},"mark":{"type":"arc","theta":0,"theta2":6.2832,"radius":70,"filled":false,"stroke":"black","strokeWidth":1.2},"encoding":{"x":{"datum":0,"type":"quantitative","scale":{"domain":[-1.371429,1.371429],"nice":false,"zero":false}},"y":{"datum":0,"type":"quantitative","scale":{"domain":[-1.314286,1.957143],"nice":false,"zero":false}}}},
{"data":{"values":[{}]},"mark":{"type":"rule","stroke":"black","strokeWidth":1},"encoding":{"x":{"datum":-1,"type":"quantitative"},"x2":{"datum":1},"y":{"datum":0,"type":"quantitative"}}},
{"data":{"values":[{}]},"mark":{"type":"rule","stroke":"black","strokeWidth":1},"encoding":{"x":{"datum":0,"type":"quantitative"},"y":{"datum":-1,"type":"quantitative"},"y2":{"datum":1}}},
{"data":{"name":"rosetick"},"mark":{"type":"arc","radius":70,"radius2":74,"thetaOffset":-0.007,"theta2Offset":0.007,"fill":"black","stroke":"black","strokeWidth":0.6},"encoding":{"x":{"datum":0,"type":"quantitative"},"y":{"datum":0,"type":"quantitative"},"theta":{"field":"a","type":"quantitative","stack":null,"scale":{"domain":[0,360],"range":[0,6.283185]}},"theta2":{"field":"a"}}},
{"data":{"name":"rose"},"transform":[{"filter":"datum.z=='A'"}],"mark":{"type":"arc","fill":"#8c8c8c","stroke":"black","strokeWidth":0.7},"encoding":{"x":{"datum":0,"type":"quantitative"},"y":{"datum":0,"type":"quantitative"},"theta":{"field":"a0","type":"quantitative","stack":null,"scale":{"domain":[0,360],"range":[0,6.283185]}},"theta2":{"field":"a1"},"radius":{"field":"r","type":"quantitative","scale":{"type":"linear","domain":[0,1],"range":[0,70],"zero":true}}}},
{"data":{"values":[{}]},"mark":{"type":"text","align":"center","baseline":"middle","fontSize":15},"encoding":{"x":{"datum":0,"type":"quantitative"},"y":{"datum":1.2,"type":"quantitative"},"text":{"value":"0"}}},
{"data":{"values":[{}]},"mark":{"type":"text","align":"center","baseline":"middle","fontSize":15},"encoding":{"x":{"datum":0,"type":"quantitative"},"y":{"datum":-1.2,"type":"quantitative"},"text":{"value":"180"}}},
{"data":{"values":[{}]},"mark":{"type":"text","align":"right","baseline":"middle","fontSize":15},"encoding":{"x":{"datum":-1.1,"type":"quantitative"},"y":{"datum":0,"type":"quantitative"},"text":{"value":"270"}}},
{"data":{"values":[{}]},"mark":{"type":"text","align":"left","baseline":"middle","fontSize":15},"encoding":{"x":{"datum":1.11,"type":"quantitative"},"y":{"datum":0,"type":"quantitative"},"text":{"value":"90"}}},
{"data":{"values":[{}]},"mark":{"type":"text","align":"center","baseline":"middle","fontSize":16.5},"encoding":{"x":{"datum":1.114,"type":"quantitative"},"y":{"datum":1.742857,"type":"quantitative"},"text":{"value":"Avant-Monts Zone s.str: 14 sites"}}}
]},
{"width":158,"height":229,"layer":[
{"data":{"values":[{}]},"mark":{"type":"arc","theta":0,"theta2":6.2832,"radius":70,"filled":false,"stroke":"black","strokeWidth":1.2},"encoding":{"x":{"datum":0,"type":"quantitative","scale":{"domain":[-1.128571,1.128571],"nice":false,"zero":false}},"y":{"datum":0,"type":"quantitative","scale":{"domain":[-1.314286,1.957143],"nice":false,"zero":false}}}},
{"data":{"name":"nettick"},"mark":{"type":"arc","radius":70,"radius2":75,"thetaOffset":-0.007,"theta2Offset":0.007,"fill":"black","stroke":"black","strokeWidth":0.6},"encoding":{"x":{"datum":0,"type":"quantitative"},"y":{"datum":0,"type":"quantitative"},"theta":{"field":"a","type":"quantitative","stack":null,"scale":{"domain":[0,360],"range":[0,6.283185]}},"theta2":{"field":"a"}}},
{"data":{"name":"contours"},"transform":[{"filter":"datum.z=='A'&&datum.p==3"},{"window":[{"op":"row_number","as":"o"}],"groupby":["g"]}],"mark":{"type":"line","stroke":"black","strokeWidth":0.8},"encoding":{"x":{"field":"x","type":"quantitative"},"y":{"field":"y","type":"quantitative"},"detail":{"field":"g"},"order":{"field":"o","type":"quantitative"}}},
{"data":{"name":"poles"},"transform":[{"filter":"datum.z=='A'&&datum.p==3"}],"mark":{"type":"point","shape":"triangle-up","filled":true,"fill":"black","stroke":"black","strokeWidth":0.5,"size":64,"opacity":1},"encoding":{"x":{"field":"x","type":"quantitative"},"y":{"field":"y","type":"quantitative"}}},
{"data":{"values":[{}]},"mark":{"type":"point","shape":"M-1,0L1,0M0,-1L0,1","filled":false,"stroke":"black","strokeWidth":1,"size":36,"opacity":1},"encoding":{"x":{"datum":0,"type":"quantitative"},"y":{"datum":0,"type":"quantitative"}}},
{"data":{"values":[{}]},"mark":{"type":"text","align":"center","baseline":"middle","fontSize":16},"encoding":{"x":{"datum":-0.03,"type":"quantitative"},"y":{"datum":1.3,"type":"quantitative"},"text":{"value":"Azimuth σ 3"}}}
]},
{"width":123,"height":229,"layer":[
{"data":{"name":"dip"},"transform":[{"filter":"datum.z=='A'"}],"mark":{"type":"arc","fill":"#8c8c8c","stroke":"black","strokeWidth":0.7},"encoding":{"x":{"datum":0,"type":"quantitative","scale":{"domain":[-0.142857,1.614286],"nice":false,"zero":false}},"y":{"datum":0.685714,"type":"quantitative","scale":{"domain":[-1.314286,1.957143],"nice":false,"zero":false}},"theta":{"field":"d0","type":"quantitative","stack":null,"scale":{"domain":[-90,270],"range":[0,6.283185]}},"theta2":{"field":"d1"},"radius":{"field":"r","type":"quantitative","scale":{"type":"linear","domain":[0,1],"range":[0,106],"zero":true}}}},
{"data":{"values":[{}]},"mark":{"type":"arc","theta":1.570796,"theta2":3.141593,"radius":106,"filled":false,"stroke":"black","strokeWidth":1.2},"encoding":{"x":{"datum":0,"type":"quantitative"},"y":{"datum":0.685714,"type":"quantitative"}}},
{"data":{"name":"diptick"},"mark":{"type":"arc","radius":106,"radius2":110,"thetaOffset":-0.005,"theta2Offset":0.005,"fill":"black","stroke":"black","strokeWidth":0.6},"encoding":{"x":{"datum":0,"type":"quantitative"},"y":{"datum":0.685714,"type":"quantitative"},"theta":{"field":"a","type":"quantitative","stack":null,"scale":{"domain":[-90,270],"range":[0,6.283185]}},"theta2":{"field":"a"}}},
{"data":{"values":[{}]},"mark":{"type":"text","align":"center","baseline":"middle","fontSize":15},"encoding":{"x":{"datum":1.529,"type":"quantitative"},"y":{"datum":0.9,"type":"quantitative"},"text":{"value":"0"}}},
{"data":{"values":[{}]},"mark":{"type":"text","align":"center","baseline":"middle","fontSize":15},"encoding":{"x":{"datum":0.014,"type":"quantitative"},"y":{"datum":-1.1,"type":"quantitative"},"text":{"value":"90"}}},
{"data":{"values":[{}]},"mark":{"type":"text","align":"center","baseline":"middle","fontSize":16},"encoding":{"x":{"datum":0.686,"type":"quantitative"},"y":{"datum":1.3,"type":"quantitative"},"text":{"value":"Dip σ3"}}}
]}
]},
{"spacing":0,"bounds":"flush","hconcat":[
{"width":166,"height":228,"layer":[
{"data":{"values":[{}]},"mark":{"type":"arc","theta":0,"theta2":6.2832,"radius":70,"filled":false,"stroke":"black","strokeWidth":1.2},"encoding":{"x":{"datum":0,"type":"quantitative","scale":{"domain":[-1.185714,1.185714],"nice":false,"zero":false}},"y":{"datum":0,"type":"quantitative","scale":{"domain":[-1.4,1.857143],"nice":false,"zero":false}}}},
{"data":{"name":"nettick"},"mark":{"type":"arc","radius":70,"radius2":75,"thetaOffset":-0.007,"theta2Offset":0.007,"fill":"black","stroke":"black","strokeWidth":0.6},"encoding":{"x":{"datum":0,"type":"quantitative"},"y":{"datum":0,"type":"quantitative"},"theta":{"field":"a","type":"quantitative","stack":null,"scale":{"domain":[0,360],"range":[0,6.283185]}},"theta2":{"field":"a"}}},
{"data":{"name":"contours"},"transform":[{"filter":"datum.z=='B'&&datum.p==1"},{"window":[{"op":"row_number","as":"o"}],"groupby":["g"]}],"mark":{"type":"line","stroke":"black","strokeWidth":0.8},"encoding":{"x":{"field":"x","type":"quantitative"},"y":{"field":"y","type":"quantitative"},"detail":{"field":"g"},"order":{"field":"o","type":"quantitative"}}},
{"data":{"name":"poles"},"transform":[{"filter":"datum.z=='B'&&datum.p==1"}],"mark":{"type":"point","shape":"circle","filled":true,"fill":"black","stroke":"black","strokeWidth":0.5,"size":42,"opacity":1},"encoding":{"x":{"field":"x","type":"quantitative"},"y":{"field":"y","type":"quantitative"}}},
{"data":{"values":[{}]},"mark":{"type":"point","shape":"M-1,0L1,0M0,-1L0,1","filled":false,"stroke":"black","strokeWidth":1,"size":36,"opacity":1},"encoding":{"x":{"datum":0,"type":"quantitative"},"y":{"datum":0,"type":"quantitative"}}},
{"data":{"values":[{}]},"mark":{"type":"text","align":"right","baseline":"middle","fontSize":16},"encoding":{"x":{"datum":2.0,"type":"quantitative"},"y":{"datum":1.257143,"type":"quantitative"},"text":{"value":"σ 1"}}}
]},
{"width":192,"height":228,"layer":[
{"data":{"values":[{}]},"mark":{"type":"arc","theta":0,"theta2":6.2832,"radius":70,"filled":false,"stroke":"black","strokeWidth":1.2},"encoding":{"x":{"datum":0,"type":"quantitative","scale":{"domain":[-1.371429,1.371429],"nice":false,"zero":false}},"y":{"datum":0,"type":"quantitative","scale":{"domain":[-1.4,1.857143],"nice":false,"zero":false}}}},
{"data":{"values":[{}]},"mark":{"type":"rule","stroke":"black","strokeWidth":1},"encoding":{"x":{"datum":-1,"type":"quantitative"},"x2":{"datum":1},"y":{"datum":0,"type":"quantitative"}}},
{"data":{"values":[{}]},"mark":{"type":"rule","stroke":"black","strokeWidth":1},"encoding":{"x":{"datum":0,"type":"quantitative"},"y":{"datum":-1,"type":"quantitative"},"y2":{"datum":1}}},
{"data":{"name":"rosetick"},"mark":{"type":"arc","radius":70,"radius2":74,"thetaOffset":-0.007,"theta2Offset":0.007,"fill":"black","stroke":"black","strokeWidth":0.6},"encoding":{"x":{"datum":0,"type":"quantitative"},"y":{"datum":0,"type":"quantitative"},"theta":{"field":"a","type":"quantitative","stack":null,"scale":{"domain":[0,360],"range":[0,6.283185]}},"theta2":{"field":"a"}}},
{"data":{"name":"rose"},"transform":[{"filter":"datum.z=='B'"}],"mark":{"type":"arc","fill":"#8c8c8c","stroke":"black","strokeWidth":0.7},"encoding":{"x":{"datum":0,"type":"quantitative"},"y":{"datum":0,"type":"quantitative"},"theta":{"field":"a0","type":"quantitative","stack":null,"scale":{"domain":[0,360],"range":[0,6.283185]}},"theta2":{"field":"a1"},"radius":{"field":"r","type":"quantitative","scale":{"type":"linear","domain":[0,1],"range":[0,70],"zero":true}}}},
{"data":{"values":[{}]},"mark":{"type":"text","align":"center","baseline":"middle","fontSize":15},"encoding":{"x":{"datum":0,"type":"quantitative"},"y":{"datum":1.18,"type":"quantitative"},"text":{"value":"0"}}},
{"data":{"values":[{}]},"mark":{"type":"text","align":"center","baseline":"middle","fontSize":15},"encoding":{"x":{"datum":0,"type":"quantitative"},"y":{"datum":-1.16,"type":"quantitative"},"text":{"value":"180"}}},
{"data":{"values":[{}]},"mark":{"type":"text","align":"right","baseline":"middle","fontSize":15},"encoding":{"x":{"datum":-1.1,"type":"quantitative"},"y":{"datum":0,"type":"quantitative"},"text":{"value":"270"}}},
{"data":{"values":[{}]},"mark":{"type":"text","align":"left","baseline":"middle","fontSize":15},"encoding":{"x":{"datum":1.11,"type":"quantitative"},"y":{"datum":0,"type":"quantitative"},"text":{"value":"90"}}},
{"data":{"values":[{}]},"mark":{"type":"text","align":"center","baseline":"middle","fontSize":16.5},"encoding":{"x":{"datum":0.971,"type":"quantitative"},"y":{"datum":1.642857,"type":"quantitative"},"text":{"value":"Besançon Zone: 23 sites"}}}
]},
{"width":158,"height":228,"layer":[
{"data":{"values":[{}]},"mark":{"type":"arc","theta":0,"theta2":6.2832,"radius":70,"filled":false,"stroke":"black","strokeWidth":1.2},"encoding":{"x":{"datum":0,"type":"quantitative","scale":{"domain":[-1.128571,1.128571],"nice":false,"zero":false}},"y":{"datum":0,"type":"quantitative","scale":{"domain":[-1.4,1.857143],"nice":false,"zero":false}}}},
{"data":{"name":"nettick"},"mark":{"type":"arc","radius":70,"radius2":75,"thetaOffset":-0.007,"theta2Offset":0.007,"fill":"black","stroke":"black","strokeWidth":0.6},"encoding":{"x":{"datum":0,"type":"quantitative"},"y":{"datum":0,"type":"quantitative"},"theta":{"field":"a","type":"quantitative","stack":null,"scale":{"domain":[0,360],"range":[0,6.283185]}},"theta2":{"field":"a"}}},
{"data":{"name":"contours"},"transform":[{"filter":"datum.z=='B'&&datum.p==3"},{"window":[{"op":"row_number","as":"o"}],"groupby":["g"]}],"mark":{"type":"line","stroke":"black","strokeWidth":0.8},"encoding":{"x":{"field":"x","type":"quantitative"},"y":{"field":"y","type":"quantitative"},"detail":{"field":"g"},"order":{"field":"o","type":"quantitative"}}},
{"data":{"name":"poles"},"transform":[{"filter":"datum.z=='B'&&datum.p==3"}],"mark":{"type":"point","shape":"triangle-up","filled":true,"fill":"black","stroke":"black","strokeWidth":0.5,"size":64,"opacity":1},"encoding":{"x":{"field":"x","type":"quantitative"},"y":{"field":"y","type":"quantitative"}}},
{"data":{"values":[{}]},"mark":{"type":"point","shape":"M-1,0L1,0M0,-1L0,1","filled":false,"stroke":"black","strokeWidth":1,"size":36,"opacity":1},"encoding":{"x":{"datum":0,"type":"quantitative"},"y":{"datum":0,"type":"quantitative"}}},
{"data":{"values":[{}]},"mark":{"type":"text","align":"center","baseline":"middle","fontSize":16},"encoding":{"x":{"datum":0,"type":"quantitative"},"y":{"datum":1.257143,"type":"quantitative"},"text":{"value":"Azimuth σ3"}}}
]},
{"width":123,"height":228,"layer":[
{"data":{"name":"dip"},"transform":[{"filter":"datum.z=='B'"}],"mark":{"type":"arc","fill":"#8c8c8c","stroke":"black","strokeWidth":0.7},"encoding":{"x":{"datum":0,"type":"quantitative","scale":{"domain":[-0.142857,1.614286],"nice":false,"zero":false}},"y":{"datum":0.671429,"type":"quantitative","scale":{"domain":[-1.4,1.857143],"nice":false,"zero":false}},"theta":{"field":"d0","type":"quantitative","stack":null,"scale":{"domain":[-90,270],"range":[0,6.283185]}},"theta2":{"field":"d1"},"radius":{"field":"r","type":"quantitative","scale":{"type":"linear","domain":[0,1],"range":[0,106],"zero":true}}}},
{"data":{"values":[{}]},"mark":{"type":"arc","theta":1.570796,"theta2":3.141593,"radius":106,"filled":false,"stroke":"black","strokeWidth":1.2},"encoding":{"x":{"datum":0,"type":"quantitative"},"y":{"datum":0.671429,"type":"quantitative"}}},
{"data":{"name":"diptick"},"mark":{"type":"arc","radius":106,"radius2":110,"thetaOffset":-0.005,"theta2Offset":0.005,"fill":"black","stroke":"black","strokeWidth":0.6},"encoding":{"x":{"datum":0,"type":"quantitative"},"y":{"datum":0.671429,"type":"quantitative"},"theta":{"field":"a","type":"quantitative","stack":null,"scale":{"domain":[-90,270],"range":[0,6.283185]}},"theta2":{"field":"a"}}},
{"data":{"values":[{}]},"mark":{"type":"text","align":"center","baseline":"middle","fontSize":15},"encoding":{"x":{"datum":1.529,"type":"quantitative"},"y":{"datum":0.86,"type":"quantitative"},"text":{"value":"0"}}},
{"data":{"values":[{}]},"mark":{"type":"text","align":"center","baseline":"middle","fontSize":15},"encoding":{"x":{"datum":0.014,"type":"quantitative"},"y":{"datum":-1.114,"type":"quantitative"},"text":{"value":"90"}}},
{"data":{"values":[{}]},"mark":{"type":"text","align":"center","baseline":"middle","fontSize":16},"encoding":{"x":{"datum":0.73,"type":"quantitative"},"y":{"datum":1.257143,"type":"quantitative"},"text":{"value":"Dip σ3"}}}
]}
]},
{"spacing":0,"bounds":"flush","hconcat":[
{"width":166,"height":225,"layer":[
{"data":{"values":[{}]},"mark":{"type":"arc","theta":0,"theta2":6.2832,"radius":70,"filled":false,"stroke":"black","strokeWidth":1.2},"encoding":{"x":{"datum":0,"type":"quantitative","scale":{"domain":[-1.185714,1.185714],"nice":false,"zero":false}},"y":{"datum":0,"type":"quantitative","scale":{"domain":[-1.285714,1.928571],"nice":false,"zero":false}}}},
{"data":{"name":"nettick"},"mark":{"type":"arc","radius":70,"radius2":75,"thetaOffset":-0.007,"theta2Offset":0.007,"fill":"black","stroke":"black","strokeWidth":0.6},"encoding":{"x":{"datum":0,"type":"quantitative"},"y":{"datum":0,"type":"quantitative"},"theta":{"field":"a","type":"quantitative","stack":null,"scale":{"domain":[0,360],"range":[0,6.283185]}},"theta2":{"field":"a"}}},
{"data":{"name":"contours"},"transform":[{"filter":"datum.z=='F'&&datum.p==1"},{"window":[{"op":"row_number","as":"o"}],"groupby":["g"]}],"mark":{"type":"line","stroke":"black","strokeWidth":0.8},"encoding":{"x":{"field":"x","type":"quantitative"},"y":{"field":"y","type":"quantitative"},"detail":{"field":"g"},"order":{"field":"o","type":"quantitative"}}},
{"data":{"name":"poles"},"transform":[{"filter":"datum.z=='F'&&datum.p==1"}],"mark":{"type":"point","shape":"circle","filled":true,"fill":"black","stroke":"black","strokeWidth":0.5,"size":42,"opacity":1},"encoding":{"x":{"field":"x","type":"quantitative"},"y":{"field":"y","type":"quantitative"}}},
{"data":{"values":[{}]},"mark":{"type":"point","shape":"M-1,0L1,0M0,-1L0,1","filled":false,"stroke":"black","strokeWidth":1,"size":36,"opacity":1},"encoding":{"x":{"datum":0,"type":"quantitative"},"y":{"datum":0,"type":"quantitative"}}},
{"data":{"values":[{}]},"mark":{"type":"text","align":"right","baseline":"middle","fontSize":16},"encoding":{"x":{"datum":1.971,"type":"quantitative"},"y":{"datum":1.328571,"type":"quantitative"},"text":{"value":"Azimuth σ 1"}}}
]},
{"width":192,"height":225,"layer":[
{"data":{"values":[{}]},"mark":{"type":"arc","theta":0,"theta2":6.2832,"radius":70,"filled":false,"stroke":"black","strokeWidth":1.2},"encoding":{"x":{"datum":0,"type":"quantitative","scale":{"domain":[-1.371429,1.371429],"nice":false,"zero":false}},"y":{"datum":0,"type":"quantitative","scale":{"domain":[-1.285714,1.928571],"nice":false,"zero":false}}}},
{"data":{"values":[{}]},"mark":{"type":"rule","stroke":"black","strokeWidth":1},"encoding":{"x":{"datum":-1,"type":"quantitative"},"x2":{"datum":1},"y":{"datum":0,"type":"quantitative"}}},
{"data":{"values":[{}]},"mark":{"type":"rule","stroke":"black","strokeWidth":1},"encoding":{"x":{"datum":0,"type":"quantitative"},"y":{"datum":-1,"type":"quantitative"},"y2":{"datum":1}}},
{"data":{"name":"rosetick"},"mark":{"type":"arc","radius":70,"radius2":74,"thetaOffset":-0.007,"theta2Offset":0.007,"fill":"black","stroke":"black","strokeWidth":0.6},"encoding":{"x":{"datum":0,"type":"quantitative"},"y":{"datum":0,"type":"quantitative"},"theta":{"field":"a","type":"quantitative","stack":null,"scale":{"domain":[0,360],"range":[0,6.283185]}},"theta2":{"field":"a"}}},
{"data":{"name":"rose"},"transform":[{"filter":"datum.z=='F'"}],"mark":{"type":"arc","fill":"#8c8c8c","stroke":"black","strokeWidth":0.7},"encoding":{"x":{"datum":0,"type":"quantitative"},"y":{"datum":0,"type":"quantitative"},"theta":{"field":"a0","type":"quantitative","stack":null,"scale":{"domain":[0,360],"range":[0,6.283185]}},"theta2":{"field":"a1"},"radius":{"field":"r","type":"quantitative","scale":{"type":"linear","domain":[0,1],"range":[0,70],"zero":true}}}},
{"data":{"values":[{}]},"mark":{"type":"text","align":"center","baseline":"middle","fontSize":15},"encoding":{"x":{"datum":0,"type":"quantitative"},"y":{"datum":1.2,"type":"quantitative"},"text":{"value":"0"}}},
{"data":{"values":[{}]},"mark":{"type":"text","align":"center","baseline":"middle","fontSize":15},"encoding":{"x":{"datum":0,"type":"quantitative"},"y":{"datum":-1.1,"type":"quantitative"},"text":{"value":"180"}}},
{"data":{"values":[{}]},"mark":{"type":"text","align":"right","baseline":"middle","fontSize":15},"encoding":{"x":{"datum":-1.1,"type":"quantitative"},"y":{"datum":0,"type":"quantitative"},"text":{"value":"270"}}},
{"data":{"values":[{}]},"mark":{"type":"text","align":"left","baseline":"middle","fontSize":15},"encoding":{"x":{"datum":1.11,"type":"quantitative"},"y":{"datum":0,"type":"quantitative"},"text":{"value":"90"}}},
{"data":{"values":[{}]},"mark":{"type":"text","align":"center","baseline":"middle","fontSize":16.5},"encoding":{"x":{"datum":0.9,"type":"quantitative"},"y":{"datum":1.714286,"type":"quantitative"},"text":{"value":"Faisceaux: 14 sites"}}}
]},
{"width":158,"height":225,"layer":[
{"data":{"values":[{}]},"mark":{"type":"arc","theta":0,"theta2":6.2832,"radius":70,"filled":false,"stroke":"black","strokeWidth":1.2},"encoding":{"x":{"datum":0,"type":"quantitative","scale":{"domain":[-1.128571,1.128571],"nice":false,"zero":false}},"y":{"datum":0,"type":"quantitative","scale":{"domain":[-1.285714,1.928571],"nice":false,"zero":false}}}},
{"data":{"name":"nettick"},"mark":{"type":"arc","radius":70,"radius2":75,"thetaOffset":-0.007,"theta2Offset":0.007,"fill":"black","stroke":"black","strokeWidth":0.6},"encoding":{"x":{"datum":0,"type":"quantitative"},"y":{"datum":0,"type":"quantitative"},"theta":{"field":"a","type":"quantitative","stack":null,"scale":{"domain":[0,360],"range":[0,6.283185]}},"theta2":{"field":"a"}}},
{"data":{"name":"contours"},"transform":[{"filter":"datum.z=='F'&&datum.p==3"},{"window":[{"op":"row_number","as":"o"}],"groupby":["g"]}],"mark":{"type":"line","stroke":"black","strokeWidth":0.8},"encoding":{"x":{"field":"x","type":"quantitative"},"y":{"field":"y","type":"quantitative"},"detail":{"field":"g"},"order":{"field":"o","type":"quantitative"}}},
{"data":{"name":"poles"},"transform":[{"filter":"datum.z=='F'&&datum.p==3"}],"mark":{"type":"point","shape":"triangle-up","filled":true,"fill":"black","stroke":"black","strokeWidth":0.5,"size":64,"opacity":1},"encoding":{"x":{"field":"x","type":"quantitative"},"y":{"field":"y","type":"quantitative"}}},
{"data":{"values":[{}]},"mark":{"type":"text","align":"center","baseline":"middle","fontSize":16},"encoding":{"x":{"datum":-0.03,"type":"quantitative"},"y":{"datum":1.328571,"type":"quantitative"},"text":{"value":"Azimuth σ3"}}}
]},
{"width":123,"height":225,"layer":[
{"data":{"name":"dip"},"transform":[{"filter":"datum.z=='F'"}],"mark":{"type":"arc","fill":"#8c8c8c","stroke":"black","strokeWidth":0.7},"encoding":{"x":{"datum":0,"type":"quantitative","scale":{"domain":[-0.142857,1.614286],"nice":false,"zero":false}},"y":{"datum":0.757143,"type":"quantitative","scale":{"domain":[-1.285714,1.928571],"nice":false,"zero":false}},"theta":{"field":"d0","type":"quantitative","stack":null,"scale":{"domain":[-90,270],"range":[0,6.283185]}},"theta2":{"field":"d1"},"radius":{"field":"r","type":"quantitative","scale":{"type":"linear","domain":[0,1],"range":[0,106],"zero":true}}}},
{"data":{"values":[{}]},"mark":{"type":"arc","theta":1.570796,"theta2":3.141593,"radius":106,"filled":false,"stroke":"black","strokeWidth":1.2},"encoding":{"x":{"datum":0,"type":"quantitative"},"y":{"datum":0.757143,"type":"quantitative"}}},
{"data":{"name":"diptick"},"mark":{"type":"arc","radius":106,"radius2":110,"thetaOffset":-0.005,"theta2Offset":0.005,"fill":"black","stroke":"black","strokeWidth":0.6},"encoding":{"x":{"datum":0,"type":"quantitative"},"y":{"datum":0.757143,"type":"quantitative"},"theta":{"field":"a","type":"quantitative","stack":null,"scale":{"domain":[-90,270],"range":[0,6.283185]}},"theta2":{"field":"a"}}},
{"data":{"values":[{}]},"mark":{"type":"text","align":"center","baseline":"middle","fontSize":15},"encoding":{"x":{"datum":1.529,"type":"quantitative"},"y":{"datum":0.971,"type":"quantitative"},"text":{"value":"0"}}},
{"data":{"values":[{}]},"mark":{"type":"text","align":"center","baseline":"middle","fontSize":15},"encoding":{"x":{"datum":0.014,"type":"quantitative"},"y":{"datum":-1.029,"type":"quantitative"},"text":{"value":"90"}}},
{"data":{"values":[{}]},"mark":{"type":"text","align":"center","baseline":"middle","fontSize":16},"encoding":{"x":{"datum":0.686,"type":"quantitative"},"y":{"datum":1.328571,"type":"quantitative"},"text":{"value":"Dip σ 3"}}}
]}
]}
]
}
